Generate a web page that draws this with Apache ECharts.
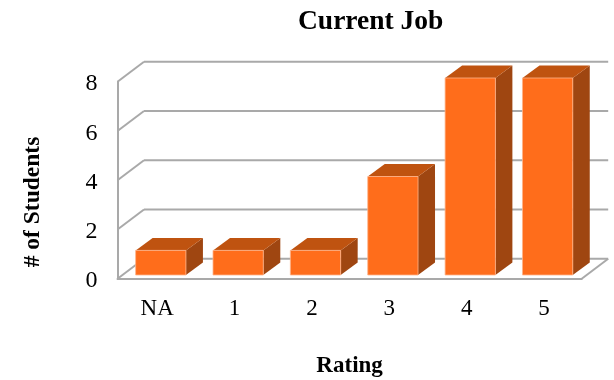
<!DOCTYPE html>
<html>
<head>
<meta charset="utf-8">
<style>html,body{margin:0;padding:0;background:#fff}#c{width:614px;height:380px}</style>
<script src="https://cdn.jsdelivr.net/npm/echarts@6/dist/echarts.min.js"></script>
</head>
<body>
<div id="c"></div>
<script>
const categories = ['NA', '1', '2', '3', '4', '5'];
const students = [1, 1, 1, 4, 8, 8];
const yTicks = [0, 2, 4, 6, 8];

const FONT = '"Liberation Serif", "Times New Roman", serif';
const DX = 26.5, DY = 20;      // depth of the back wall
const BDX = 17, BDY = 12.5;    // depth of each bar
const GREY = '#A9A9A9';
const chart = echarts.init(document.getElementById('c'), null, {renderer: 'canvas'});

function line(x1, y1, x2, y2) {
  return {type: 'line', shape: {x1, y1, x2, y2}, style: {stroke: GREY, lineWidth: 2}};
}
function frameItem(params, api) {
  const cs = params.coordSys;
  const v = api.value(0);
  const y = api.coord([0, v])[1];
  const left = cs.x, right = cs.x + cs.width;
  const children = [
    line(left, y, left + DX, y - DY),
    line(left + DX, y - DY, right + DX, y - DY)
  ];
  if (v === 0) children.push(line(right, y, right + DX, y - DY));
  return {type: 'group', children};
}
function barItem(params, api) {
  const i = api.value(0), v = api.value(1);
  const top = api.coord([i, v]);
  const base = api.coord([i, 0]);
  const w = api.size([1, 0])[0] * 0.65;
  const x0 = top[0] - w / 2 + 4.6, x1 = x0 + w;
  const y0 = top[1] - 3.7, y1 = base[1] - 3.7;
  return {type: 'group', children: [
    {type: 'polygon', shape: {points: [[x1, y0], [x1 + BDX, y0 - BDY], [x1 + BDX, y1 - BDY], [x1, y1]]},
      style: {fill: '#9F4611'}},
    {type: 'polygon', shape: {points: [[x0, y0], [x0 + BDX, y0 - BDY], [x1 + BDX, y0 - BDY], [x1, y0]]},
      style: {fill: '#BF5310'}},
    {type: 'rect', shape: {x: x0, y: y0, width: w, height: y1 - y0},
      style: {fill: '#FF6D1B', stroke: '#FFB48A', lineWidth: 0.8}}
  ]};
}
chart.setOption({
  animation: false,
  backgroundColor: '#fff',
  title: {text: 'Current Job', left: 298, top: 8, padding: 0,
    textStyle: {fontFamily: FONT, fontWeight: 'bold', fontSize: 27.5, color: '#000'}},
  grid: {left: 117.5, top: 81.7, width: 464.2, height: 197, outerBoundsMode: 'none'},
  xAxis: {type: 'category', data: categories,
    name: 'Rating', nameLocation: 'middle', nameGap: 76,
    nameTextStyle: {fontFamily: FONT, fontWeight: 'bold', fontSize: 23, color: '#000'},
    axisLine: {lineStyle: {color: GREY, width: 2}}, axisTick: {show: false},
    axisLabel: {fontFamily: FONT, fontSize: 23, color: '#000', margin: 19, padding: [0, 0, 0, 2]}},
  yAxis: {type: 'value', min: 0, max: 8, interval: 2,
    axisLine: {show: true, lineStyle: {color: GREY, width: 2}}, axisTick: {show: false},
    splitLine: {show: false},
    axisLabel: {margin: 20, formatter: v => '{n|' + v + '}',
      rich: {n: {fontFamily: FONT, fontSize: 24, color: '#000', padding: [5, 0, 0, 0]}}}},
  graphic: [{type: 'text', x: 33, y: 202, rotation: Math.PI / 2,
    style: {text: '# of Students', fontFamily: FONT, fontWeight: 'bold', fontSize: 23.5,
      fill: '#000', align: 'center', verticalAlign: 'middle'}}],
  series: [
    {type: 'custom', coordinateSystem: 'cartesian2d', renderItem: frameItem, clip: false, silent: true,
      encode: {y: 0}, data: yTicks.map(v => [v]), z: 1},
    {type: 'custom', coordinateSystem: 'cartesian2d', renderItem: barItem, clip: false, silent: true,
      encode: {x: 0, y: 1}, data: students.map((v, i) => [i, v]), z: 2}
  ]
});
</script>
</body>
</html>
